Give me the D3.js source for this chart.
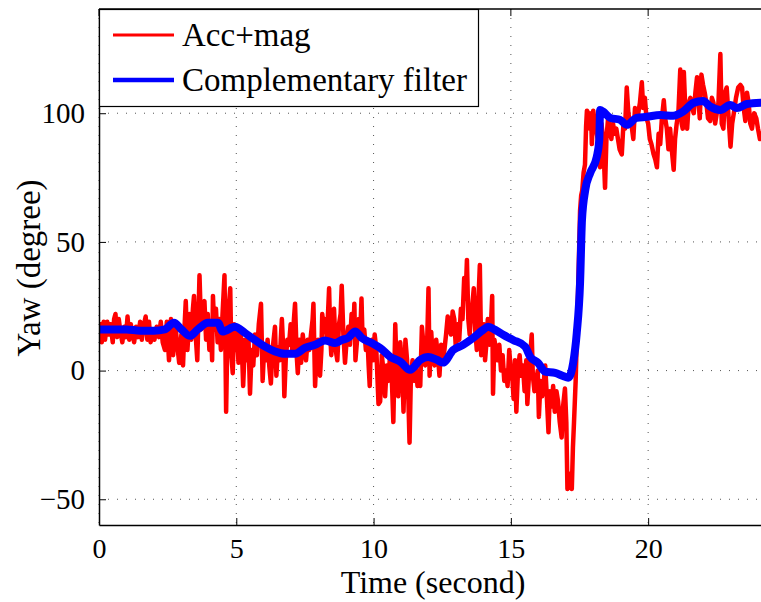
<!DOCTYPE html>
<html>
<head>
<meta charset="utf-8">
<script src="https://cdn.jsdelivr.net/npm/d3@7"></script>
<style>
body { margin:0; background:#fff; }
text { font-family:"Liberation Serif", "DejaVu Serif", serif; }
</style>
</head>
<body>
<div id="chart-area"></div>
<script>
// Yaw angle: accelerometer+magnetometer vs complementary filter

var xTicks = [0, 5, 10, 15, 20];
var yTicks = [-50, 0, 50, 100];
var seriesNames = ['Acc+mag', 'Complementary filter'];

// Acc+mag (red), time in seconds
var redT = [0.00,0.05,0.10,0.17,0.22,0.30,0.36,0.42,0.50,0.55,0.60,0.66,0.72,0.78,0.85,0.92,0.98,1.04,1.10,1.16,1.22,1.28,1.35,1.42,1.50,1.56,1.62,1.70,1.76,1.82,1.88,1.95,2.02,2.10,2.18,2.25,2.32,2.40,2.47,2.55,2.62,2.70,2.78,2.85,2.92,3.00,3.06,3.12,3.16,3.22,3.30,3.36,3.42,3.46,3.52,3.58,3.62,3.66,3.72,3.78,3.84,3.90,3.96,4.02,4.08,4.12,4.15,4.20,4.26,4.32,4.38,4.44,4.50,4.57,4.60,4.63,4.67,4.72,4.78,4.82,4.87,4.92,4.97,5.02,
  5.08,5.14,5.20,5.25,5.32,5.38,5.44,5.50,5.56,5.62,5.68,5.75,5.82,5.90,5.96,6.02,6.08,6.14,6.20,6.26,6.32,6.38,6.41,6.46,6.52,6.58,6.62,6.66,6.72,6.75,6.80,6.86,6.92,6.98,7.04,7.10,7.14,7.20,7.24,7.30,7.36,7.42,7.48,7.54,7.60,7.66,7.72,7.78,7.81,7.87,7.92,7.98,8.05,8.10,8.13,8.18,8.23,8.30,8.38,8.42,8.46,8.52,8.56,8.62,8.68,8.74,8.80,8.84,8.90,8.96,9.02,9.08,9.14,9.20,9.26,9.30,9.34,9.40,9.46,9.52,9.56,9.60,9.66,9.72,9.78,9.82,9.86,9.90,9.94,9.98,10.04,10.10,10.18,
  10.24,10.30,10.36,10.42,10.48,10.54,10.60,10.66,10.72,10.79,10.84,10.90,10.97,11.04,11.09,11.16,11.22,11.26,11.31,11.36,11.42,11.48,11.54,11.60,11.66,11.70,11.76,11.82,11.88,11.94,12.00,12.04,12.10,12.16,12.22,12.28,12.34,12.40,12.46,12.52,12.58,12.64,12.70,12.76,12.82,12.88,12.94,13.00,13.06,13.12,13.18,13.24,13.30,13.35,13.40,13.45,13.50,13.56,13.60,13.65,13.70,13.76,13.80,13.87,13.92,13.96,14.02,14.06,14.12,14.16,14.22,14.26,14.32,14.35,14.40,14.46,14.52,14.58,14.64,14.70,14.76,14.82,14.88,14.94,
  15.00,15.06,15.10,15.15,15.20,15.26,15.32,15.38,15.44,15.50,15.56,15.60,15.66,15.72,15.76,15.80,15.86,15.92,15.98,16.02,16.08,16.14,16.20,16.25,16.30,16.37,16.42,16.48,16.54,16.60,16.66,16.72,16.78,16.85,16.90,16.97,17.02,17.06,17.12,17.18,17.22,17.26,17.30,17.36,17.42,17.47,17.52,17.56,
  17.60,17.65,17.70,17.74,17.77,17.82,17.87,17.92,17.95,18.00,18.05,18.10,18.16,18.20,18.25,18.30,18.34,18.38,18.43,18.48,18.54,18.60,18.66,18.72,18.78,18.84,18.90,18.96,19.04,19.10,19.16,19.22,19.28,19.34,19.40,19.46,19.52,19.58,19.64,19.70,19.77,19.82,19.88,19.94,20.00,20.06,20.12,20.20,20.26,20.32,20.38,20.44,20.50,20.57,20.62,20.68,20.74,20.80,20.86,20.93,20.98,21.04,21.10,21.17,21.22,21.26,21.30,21.36,21.42,21.48,21.54,21.60,21.66,21.72,21.78,21.84,21.88,21.94,22.00,22.06,22.12,22.18,22.26,22.32,22.38,22.44,22.50,22.56,22.63,22.68,22.74,22.80,22.86,22.92,23.00,23.06,23.12,23.20,23.28,23.36,23.42,23.48,23.54,23.60,23.66,23.72,23.78,23.86,23.94,24.00,24.07,24.12];
var redV = [13,18,11,19,12,19,14,18,11,20,22,13,20,15,11,17,13,21,12,18,14,11,17,13,19,12,17,21,12,19,11,16,12,17,13,19,11,8,19,4,20,6,18,10,3,14,2,18,27,8,22,12,24,29,14,4,20,37,16,24,27,12,22,8,18,4,29,16,24,11,20,8,22,37,14,-16,10,24,32,6,-1,18,8,17,
  3,16,10,-6,12,4,14,-9,8,2,14,6,18,26,-4,10,4,12,2,-5,8,14,17,-2,9,4,12,20,6,-10,4,12,10,18,8,20,26,6,-1,12,3,14,8,4,12,8,14,20,26,-6,6,12,-2,8,22,16,20,12,32,14,6,22,24,8,4,18,22,33,14,3,12,17,10,22,14,26,4,12,20,16,28,12,16,8,12,2,-6,10,12,4,14,8,-13,
  -12,6,0,-10,2,-4,6,-2,-20,18,0,-10,11,2,-16,12,4,-8,-28,-2,4,-4,2,-6,0,-6,17,10,2,6,32,-2,15,4,2,12,6,-2,10,4,8,14,21,16,14,23,20,8,18,12,24,20,36,28,43,20,14,24,26,32,16,8,22,41,6,14,18,4,12,20,10,14,29,-9,12,8,4,10,0,6,-4,0,-6,8,
  0,-4,-11,4,-16,0,6,-2,2,-8,4,-13,-2,8,14,-2,-8,-4,0,-18,-4,-10,-4,2,-8,-24,-8,-14,-6,-16,-8,-12,-20,-26,-14,-7,-20,-46,-45,-40,-46,-30,-20,-4,20,40,62,68,
  70,77,80,95,101,100,94,100,88,101,97,94,90,85,79,96,92,85,71,90,98,94,90,96,92,94,90,86,84,96,94,110,100,96,95,90,102,98,100,104,112,102,106,98,96,90,88,84,82,79,92,88,98,105,98,94,86,94,86,78,90,96,100,117,96,94,116,100,94,104,106,102,100,108,114,104,98,115,111,108,104,98,97,106,104,96,100,104,123,96,94,108,110,100,87,96,100,106,110,111,110,102,97,108,104,96,94,100,98,94,90,93];

// Complementary filter (blue)
var blueT = [0.0,0.5,1.0,1.5,2.0,2.4,2.73,3.0,3.31,3.6,3.97,4.33,4.5,4.95,5.32,5.68,6.05,6.41,6.78,7.14,7.5,7.87,8.23,8.6,8.84,9.07,9.33,9.57,9.93,10.24,10.6,10.97,11.33,11.7,11.99,12.3,12.53,12.9,13.26,13.63,13.99,14.17,14.43,14.72,15.08,15.52,15.7,15.99,16.25,16.61,16.9,17.09,17.27,17.4,17.52,17.59,17.71,17.89,18.13,18.22,18.25,18.36,18.62,18.98,19.22,19.58,19.95,20.44,20.91,21.27,21.64,22.0,22.26,22.63,22.99,23.23,23.6,24.1];
var blueV = [16,16,16,15.5,15.5,16,18.6,16,13.5,16,18.6,18.6,15.2,17,14.6,11.9,9.3,7.4,6.5,6.5,8.8,10,11.7,10.7,11.9,12.7,15.2,12.7,10.7,8.8,5.4,3.5,0.3,4.2,5.3,4.2,3.1,8,10,12.7,15.8,17,15.8,13.9,11.9,9.3,5.4,3,-0.4,-0.9,-2.1,-2.8,3,14.6,34,58.5,70.2,76.8,83.1,89.6,101.3,100.6,98.2,97.4,95.5,98.2,98.6,99.3,99,100.6,104,104.8,102.6,101.3,103.2,102,103.6,104.1];

var svgWidth = 761;
var svgHeight = 602;
var margin = {left:99, right:0, top:9, bottom:77};
var width = svgWidth - margin.left - margin.right;
var height = svgHeight - margin.top - margin.bottom;

var svg = d3.select('#chart-area')
            .append('svg')
            .attr('width', svgWidth)
            .attr('height', svgHeight)
            .style('background', '#fff');

var g = svg.append('g').attr('transform', 'translate(' + margin.left + ',' + margin.top + ')');

var xScale = d3.scaleLinear().domain([0, 24.11]).range([0, width]);
var yScale = d3.scaleLinear().domain([-60, 140.5]).range([height, 0]);

// dotted grid
g.append('g')
 .selectAll('line')
 .data(xTicks)
 .enter().append('line')
 .attr('x1', d => xScale(d)).attr('x2', d => xScale(d))
 .attr('y1', 0).attr('y2', height)
 .attr('stroke', '#555').attr('stroke-width', 1)
 .attr('stroke-dasharray', '1,8');

g.append('g')
 .selectAll('line')
 .data(yTicks)
 .enter().append('line')
 .attr('y1', d => yScale(d)).attr('y2', d => yScale(d))
 .attr('x1', 0).attr('x2', width)
 .attr('stroke', '#555').attr('stroke-width', 1)
 .attr('stroke-dasharray', '1,8');

// data lines, clipped to the axes box
svg.append('clipPath').attr('id', 'plotclip')
   .append('rect').attr('x', 0).attr('y', 0).attr('width', width).attr('height', height);

var plot = g.append('g').attr('clip-path', 'url(#plotclip)');

var line = d3.line()
             .x(d => xScale(d[0]))
             .y(d => yScale(d[1]));

plot.append('path')
    .datum(d3.zip(redT, redV))
    .attr('d', line)
    .attr('fill', 'none')
    .attr('stroke', '#ff0000')
    .attr('stroke-width', 4.5)
    .attr('stroke-linejoin', 'round');

plot.append('path')
    .datum(d3.zip(blueT, blueV))
    .attr('d', line.curve(d3.curveMonotoneX))
    .attr('fill', 'none')
    .attr('stroke', '#0000ff')
    .attr('stroke-width', 8)
    .attr('stroke-linejoin', 'round')
    .attr('stroke-linecap', 'round');

// axes (ticks inside, MATLAB style)
var xAxis = d3.axisBottom(xScale).tickValues(xTicks).tickSizeInner(-7).tickSizeOuter(0).tickPadding(13);
var yAxis = d3.axisLeft(yScale).tickValues(yTicks).tickSizeInner(-7).tickSizeOuter(0).tickPadding(14);

var gx = g.append('g')
 .attr('transform', 'translate(0,' + height + ')')
 .call(xAxis);
gx.selectAll('text').attr('font-size', 28).attr('fill', '#000');

var gy = g.append('g').call(yAxis);
gy.selectAll('text').attr('font-size', 29).attr('fill', '#000');

g.selectAll('.domain').attr('stroke', '#000').attr('stroke-width', 1.5);
g.selectAll('.tick line').attr('stroke', '#000');

// top border with ticks
g.append('line').attr('x1', 0).attr('x2', width).attr('y1', 0).attr('y2', 0)
 .attr('stroke', '#000').attr('stroke-width', 1.5);
g.append('g').selectAll('line').data(xTicks).enter().append('line')
 .attr('x1', d => xScale(d)).attr('x2', d => xScale(d))
 .attr('y1', 0).attr('y2', 7).attr('stroke', '#000');

// axis labels
svg.append('text')
   .attr('x', 433)
   .attr('y', 593)
   .attr('text-anchor', 'middle')
   .attr('font-size', 32)
   .text('Time (second)');

svg.append('text')
   .attr('transform', 'translate(40,268) rotate(-90)')
   .attr('text-anchor', 'middle')
   .attr('font-size', 33)
   .text('Yaw (degree)');

// legend
var legend = svg.append('g');
legend.append('rect')
      .attr('x', 99.5).attr('y', 9.5)
      .attr('width', 379).attr('height', 97)
      .attr('fill', '#fff').attr('stroke', '#000').attr('stroke-width', 1.2);

var legendColors = ['#ff0000', '#0000ff'];
var legendWidths = [3, 4.5];
var legendY = [35, 80];

seriesNames.forEach((name, i) => {
    legend.append('line')
          .attr('x1', 113).attr('x2', 174)
          .attr('y1', legendY[i]).attr('y2', legendY[i])
          .attr('stroke', legendColors[i])
          .attr('stroke-width', legendWidths[i]);
    legend.append('text')
          .attr('x', 182)
          .attr('y', legendY[i] + 11)
          .attr('font-size', 33)
          .text(name);
});
</script>
</body>
</html>
